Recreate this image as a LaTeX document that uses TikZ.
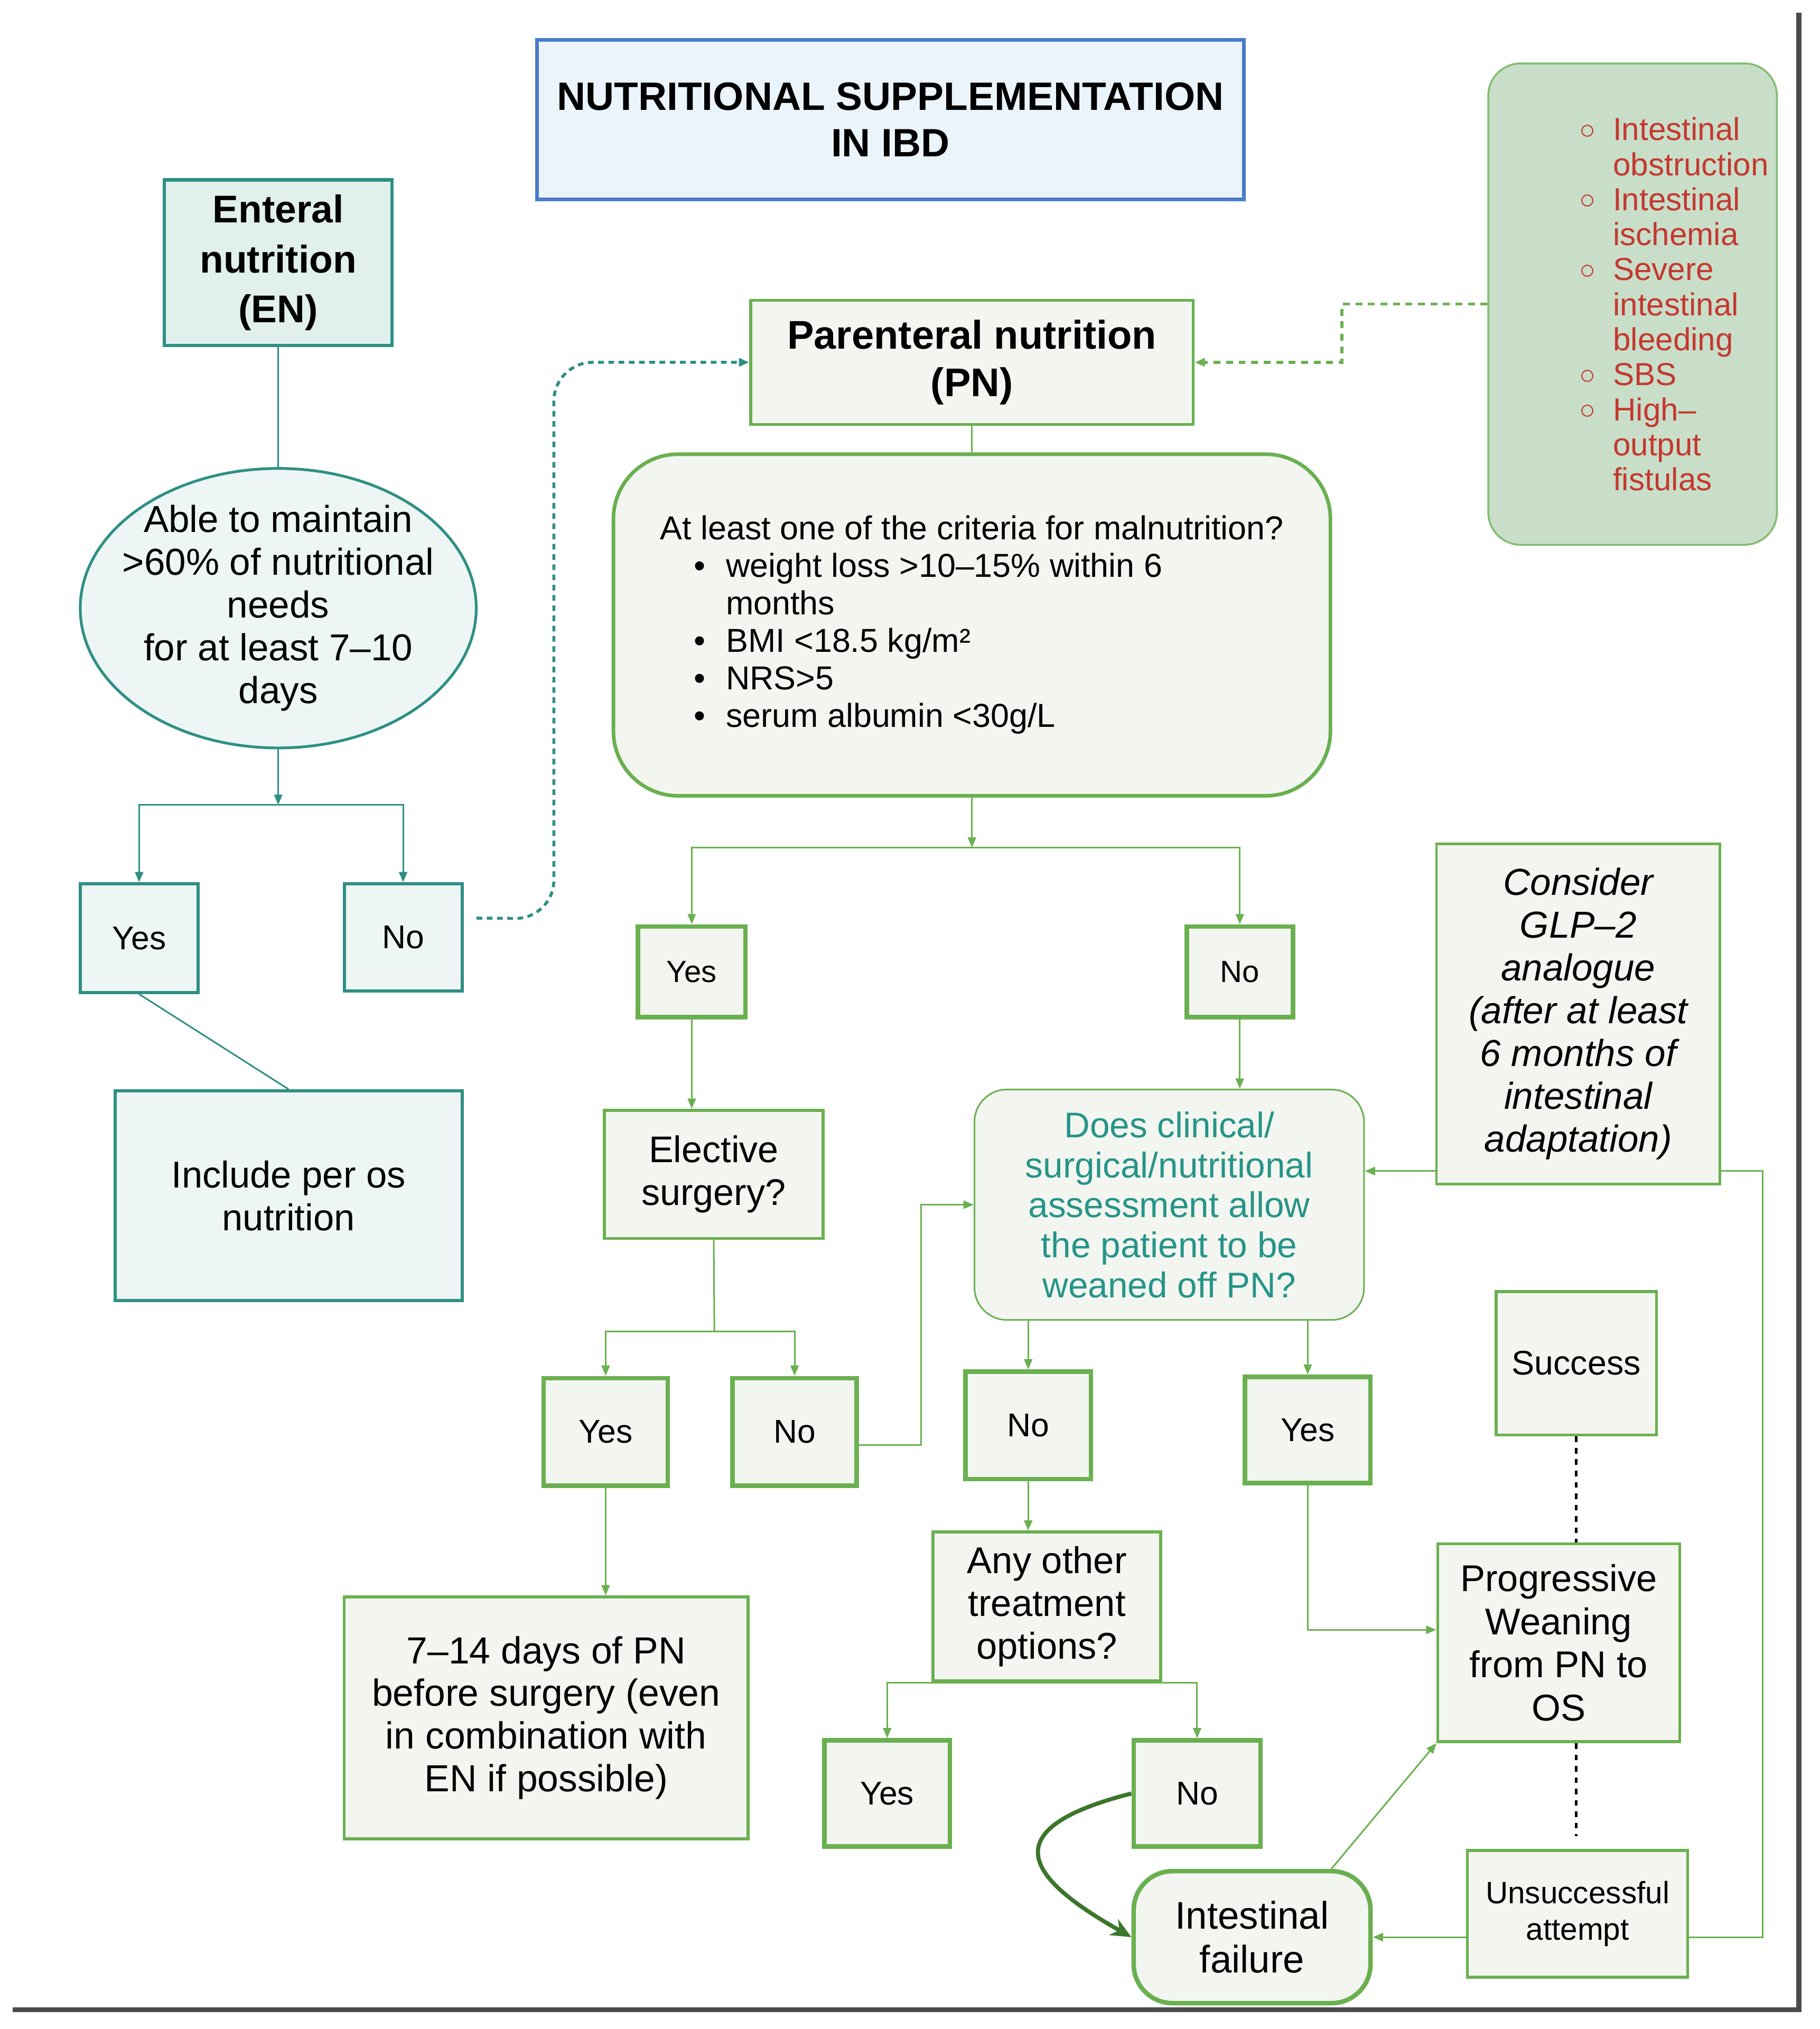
\documentclass[tikz,border=0pt]{standalone}
\usepackage{fontspec}
\setmainfont{Liberation Sans}
\usetikzlibrary{shapes.geometric,arrows.meta,calc}

\definecolor{tealline}{RGB}{46,143,132}
\definecolor{tealfill}{RGB}{225,240,236}
\definecolor{tealpale}{RGB}{237,246,244}
\definecolor{tealtext}{RGB}{38,148,136}
\definecolor{greenline}{RGB}{106,176,80}
\definecolor{greenfill}{RGB}{243,246,240}
\definecolor{darkgreen}{RGB}{60,118,44}
\definecolor{blueline}{RGB}{74,124,200}
\definecolor{bluefill}{RGB}{236,244,251}
\definecolor{contrafill}{RGB}{200,222,200}
\definecolor{contraline}{RGB}{124,190,108}
\definecolor{redtext}{RGB}{196,56,48}
\definecolor{framegray}{RGB}{75,75,75}

\newcommand\setfs[2]{\fontsize{#1}{#2}\selectfont}
\newcommand\critem[1]{\hspace*{14.8pt}\makebox[14.2pt][l]{•}#1}
\newcommand\ciitem[1]{\makebox[14.8pt][l]{\raisebox{0.6pt}{\setfs{12}{12}○}}#1}
\newcommand\cicont[1]{\hspace*{14.8pt}#1}

\begin{document}
\begin{tikzpicture}[x=0.02cm,y=-0.02cm,
  wh/.style 2 args={minimum width=#1*0.02cm,minimum height=#2*0.02cm,inner sep=0pt,align=center},
  tealbox/.style={draw=tealline,fill=tealpale,line width=1.2pt},
  greenbox/.style={draw=greenline,fill=greenfill,line width=1.3pt},
  tchoice/.style={tealbox,line width=1.4pt,font=\setfs{14.5}{17}},
  gchoice/.style={greenbox,line width=2pt,font=\setfs{14.5}{17}},
  glink/.style={draw=greenline,line width=0.7pt},
  tlink/.style={draw=tealline,line width=0.7pt},
  flow/.style={-{Triangle[length=4.5pt,width=3.6pt]}},
  sepline/.style={black,line width=1.2pt,dash pattern=on 2.5pt off 2.5pt}]
\fill[white] (0,0) rectangle (1406,1568);
\useasboundingbox (0,0) rectangle (1406,1568);

\node[draw=blueline,fill=bluefill,line width=1.6pt,wh={546}{123},font=\bfseries\setfs{17.4}{20.5}] (title) at (688,92.5) {NUTRITIONAL SUPPLEMENTATION\\IN IBD};

\node[tealbox,fill=tealfill,line width=1.5pt,wh={176}{128},font=\bfseries\setfs{17}{21.9}] (enteral) at (215,203) {Enteral\\nutrition\\(EN)};
\node[tealbox,ellipse,wh={306}{216},inner xsep=-10pt,inner ysep=-5pt,font=\setfs{16.5}{18.8}] (able) at (215,470) {Able to maintain\\>60\% of nutritional\\needs\\for at least 7–10\\days};
\node[tchoice,wh={91}{84}] (yesA) at (107.5,725) {Yes};
\node[tchoice,wh={91}{83}] (noA) at (311.5,724.5) {No};
\node[tealbox,line width=1.4pt,wh={268}{162},font=\setfs{16.4}{18.8}] (perOs) at (223,924) {Include per os\\nutrition};

\node[greenbox,wh={342}{96},font=\bfseries\setfs{17.6}{21}] (pn) at (751,280) {Parenteral nutrition\\(PN)};
\node[draw=contraline,fill=contrafill,line width=0.8pt,rounded corners=0.5cm,wh={223}{372}] (contra) at (1261.5,235) {};
\node[anchor=west,inner sep=0pt,align=left,text=redtext,font=\setfs{14}{15.4}] (contraList) at (1220,235)
  {\ciitem{Intestinal}\\\cicont{obstruction}\\\ciitem{Intestinal}\\\cicont{ischemia}\\\ciitem{Severe}\\\cicont{intestinal}\\\cicont{bleeding}\\\ciitem{SBS}\\\ciitem{High–}\\\cicont{output}\\\cicont{fistulas}};
\node[greenbox,line width=1.6pt,rounded corners=1cm,wh={554}{264},align=left,font=\setfs{14.6}{16.5}] (crit) at (751,483)
  {At least one of the criteria for malnutrition?\\
   \critem{weight loss >10–15\% within 6}\\
   \hspace*{29pt}months\\
   \critem{BMI <18.5 kg/m²}\\
   \critem{NRS>5}\\
   \critem{serum albumin <30g/L}};

\node[gchoice,wh={83}{70},font=\setfs{13.5}{16}] (yesB) at (534.5,751) {Yes};
\node[gchoice,wh={82}{70},font=\setfs{13.5}{16}] (noB) at (958,751) {No};
\node[greenbox,wh={169}{99},font=\setfs{16.3}{18.8}] (elective) at (551.5,907.5) {Elective\\surgery?};
\node[gchoice,wh={96}{83}] (yesC) at (468,1106.5) {Yes};
\node[gchoice,wh={96}{83}] (noC) at (614,1106.5) {No};
\node[greenbox,wh={312}{187},font=\setfs{16.6}{18.8}] (days) at (422,1327.5) {7–14 days of PN\\before surgery (even\\in combination with\\EN if possible)};

\node[greenbox,line width=0.7pt,rounded corners=0.5cm,wh={301}{178},text=tealtext,font=\setfs{15.7}{17.6}] (assess) at (903.5,931) {Does clinical/\\surgical/nutritional\\assessment allow\\the patient to be\\weaned off PN?};
\node[greenbox,line width=1.1pt,wh={219}{263},font=\itshape\setfs{16.5}{18.8}] (glp) at (1219.5,783.5) {Consider\\GLP–2\\analogue\\(after at least\\6 months of\\intestinal\\adaptation)};
\node[gchoice,wh={97}{83}] (noD) at (794.5,1101.5) {No};
\node[gchoice,wh={97}{82}] (yesD) at (1010.5,1105) {Yes};
\node[greenbox,line width=1.4pt,wh={176}{115},font=\setfs{16.4}{18.8}] (anyOther) at (809,1241.5) {Any other\\treatment\\options?};
\node[gchoice,wh={97}{82}] (yesE) at (685.5,1386) {Yes};
\node[gchoice,wh={98}{82}] (noE) at (925,1386) {No};
\node[greenbox,line width=2pt,rounded corners=0.6cm,wh={183}{102},font=\setfs{16.9}{19.4}] (failure) at (967.5,1497) {Intestinal\\failure};

\node[greenbox,wh={124}{111},font=\setfs{15}{18}] (success) at (1218,1053.5) {Success};
\node[greenbox,wh={187}{153},font=\setfs{16.4}{19}] (prog) at (1204.5,1269.5) {Progressive\\Weaning\\from PN to\\OS};
\node[greenbox,line width=1.2pt,wh={170}{98},font=\setfs{13.6}{16}] (unsucc) at (1219,1479) {Unsuccessful\\attempt};

\coordinate (jA) at (215,622);
\draw[tlink] (enteral.south) -- (able.north);
\draw[tlink,flow] (able.south) -- (jA);
\draw[tlink,flow] (jA) -| (yesA.north);
\draw[tlink,flow] (jA) -| (noA.north);
\draw[tlink] (yesA.south) -- (perOs.north);
\draw[tlink,line width=1.3pt,dash pattern=on 2.5pt off 2pt,rounded corners=0.6cm,flow] ($(noA.east)+(10,-15)$) -- (428,710) |- (pn.west);

\draw[glink,line width=1.3pt,dash pattern=on 3pt off 2.5pt,flow] (contra.west) -| (1037,280) -- (pn.east);
\draw[glink] (pn.south) -- (crit.north);
\coordinate (jB) at (751,655);
\draw[glink,flow] (crit.south) -- (jB);
\draw[glink,flow] (jB) -| (yesB.north);
\draw[glink,flow] (jB) -| (noB.north);
\draw[glink,flow] (yesB.south) -- (yesB.south |- elective.north);
\coordinate (jC) at (552,1029);
\draw[glink] (elective.south) -- (jC);
\draw[glink,flow] (jC) -| (yesC.north);
\draw[glink,flow] (jC) -| (noC.north);
\draw[glink,flow] (yesC.south) -- (yesC.south |- days.north);
\draw[glink,flow] ($(noC.east)+(0,10)$) -- ++(48,0) |- (assess.west);
\draw[glink,flow] (noB.south) -- (noB.south |- assess.north);

\draw[glink,flow] (noD.north |- assess.south) -- (noD.north);
\draw[glink,flow] (yesD.north |- assess.south) -- (yesD.north);
\draw[glink,flow] (noD.south) -- (noD.south |- anyOther.north);
\draw[glink,flow] (anyOther.south) -| (yesE.north);
\draw[glink,flow] (anyOther.south) -| (noE.north);
\draw[glink,flow] (yesD.south) |- ($(prog.west)+(0,-10)$);

\draw[sepline] (success.south) -- (success.south |- prog.north);
\draw[sepline] (success.south |- prog.south) -- ($(success.south |- unsucc.north)+(0,-10)$);

\coordinate (loopTop) at (1362,905);
\draw[glink,flow] (failure.east -| unsucc.west) -- (failure.east);
\draw[glink] (failure.east -| unsucc.east) -| (loopTop) -- (loopTop -| glp.east);
\draw[glink,flow] (loopTop -| glp.west) -- (loopTop -| assess.east);
\draw[glink,flow] ($(failure.north east)+(-32,0)$) -- (prog.south west);
\draw[darkgreen,line width=1.8pt,-{Stealth[length=9pt,width=8pt]}] (noE.west) .. controls (760,1415) and (800,1455) .. (failure.west);

\draw[framegray,line width=2.2pt] (1390,10) -- (1390,1553) -- (10,1553);
\end{tikzpicture}
\end{document}
